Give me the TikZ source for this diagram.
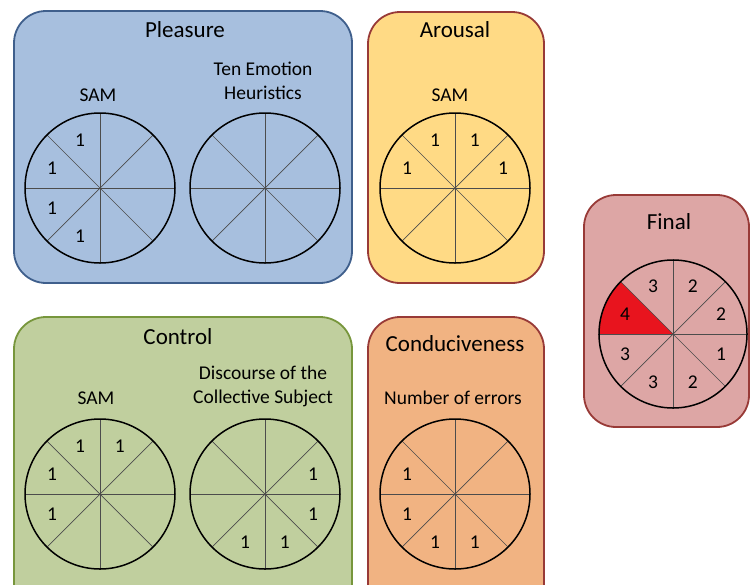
\documentclass[tikz,border=0pt]{standalone}
\usepackage{fontspec}
\setmainfont{Carlito}
\usetikzlibrary{positioning}
\definecolor{pleasurefill}{HTML}{A7BFDE}
\definecolor{pleasureline}{HTML}{3F5F8C}
\definecolor{arousalfill}{HTML}{FFDA85}
\definecolor{controlfill}{HTML}{C0CF9E}
\definecolor{controlline}{HTML}{77963C}
\definecolor{condfill}{HTML}{F1B382}
\definecolor{finalfill}{HTML}{DDA6A5}
\definecolor{redline}{HTML}{983A37}
\definecolor{hotred}{HTML}{E8141E}

\begin{document}
\begin{tikzpicture}[x=1pt, y=-1pt,
  panel/.style={rounded corners=32pt, line width=1.8pt},
  wheel/.style={circle, draw=black, line width=1.5pt, minimum size=150pt, inner sep=0pt},
  spoke/.style={black!70, line width=0.7pt},
  title/.style={font=\fontsize{23}{26}\selectfont},
  caption/.style={font=\fontsize{19.5}{24}\selectfont, align=center},
  score/.style={font=\fontsize{19.5}{22}\selectfont}]
  \useasboundingbox (0,0) rectangle (751,584);
  \clip (0,0) rectangle (751,584);

  % Kasten
  \draw[panel, fill=pleasurefill, draw=pleasureline] (14,11) rectangle (352,283);
  \draw[panel, fill=arousalfill, draw=redline] (368,12) rectangle (544,283);
  \draw[panel, fill=finalfill, draw=redline] (584,195) rectangle (749,427);
  \draw[panel, fill=controlfill, draw=controlline] (14,317) rectangle (352,620);
  \draw[panel, fill=condfill, draw=redline] (368,317) rectangle (544,620);

  % Titel
  \node[title] (tpleasure) at (185,30) {Pleasure};
  \node[title] (tarousal) at (455,30) {Arousal};
  \node[title] (tfinal) at (669,222) {Final};
  \node[title] (tcontrol) at (178,337) {Control};
  \node[title] (tcond) at (455,344) {Conduciveness};

  % Beschriftungen
  \node[caption] (cpsam) at (98,95) {SAM};
  \node[caption] (cpten) at (263,81) {Ten Emotion\\Heuristics};
  \node[caption] (casam) at (450,95) {SAM};
  \node[caption] (ccsam) at (96,398) {SAM};
  \node[caption] (ccdis) at (263,386) {Discourse of the\\Collective Subject};
  \node[caption] (cnerr) at (453,398) {Number of errors};

  % Kreise
  \coordinate (ps) at (100,188);
  \coordinate (pt) at (265,188);
  \coordinate (as) at (455,188);
  \coordinate (fc) at (673,334);
  \coordinate (cs) at (100,494);
  \coordinate (cd) at (265,494);
  \coordinate (ne) at (455,494);

  \fill[hotred] (fc) -- ++(135:74pt) arc[start angle=135, end angle=180, radius=74pt] -- cycle;

  \foreach \c in {ps,pt,as,cs,cd,ne,fc}
    \foreach \a in {0,45,...,315}
      \draw[spoke] (\c) -- ++(\a:75pt);
  \foreach \c in {ps,pt,as,cs,cd,ne}
    \node[wheel] (w\c) at (\c) {};
  \node[wheel, minimum size=148pt] (wfc) at (fc) {};

  % Punkte
  \foreach \a/\t in {112.5/1, 157.5/1, 202.5/1, 247.5/1}
    \path (ps) ++(\a:52pt) node[score] {\t};
  \foreach \a/\t in {112.5/1, 67.5/1, 157.5/1, 22.5/1}
    \path (as) ++(\a:52pt) node[score] {\t};
  \foreach \a/\t in {112.5/1, 67.5/1, 157.5/1, 202.5/1}
    \path (cs) ++(\a:52pt) node[score] {\t};
  \foreach \a/\t in {22.5/1, -22.5/1, -67.5/1, -112.5/1}
    \path (cd) ++(\a:52pt) node[score] {\t};
  \foreach \a/\t in {157.5/1, 202.5/1, 247.5/1, 292.5/1}
    \path (ne) ++(\a:52pt) node[score] {\t};
  \foreach \a/\t in {157.5/4, 112.5/3, 67.5/2, 22.5/2, -22.5/1, -67.5/2, -112.5/3, -157.5/3}
    \path (fc) ++(\a:52pt) node[score] {\t};
\end{tikzpicture}
\end{document}
